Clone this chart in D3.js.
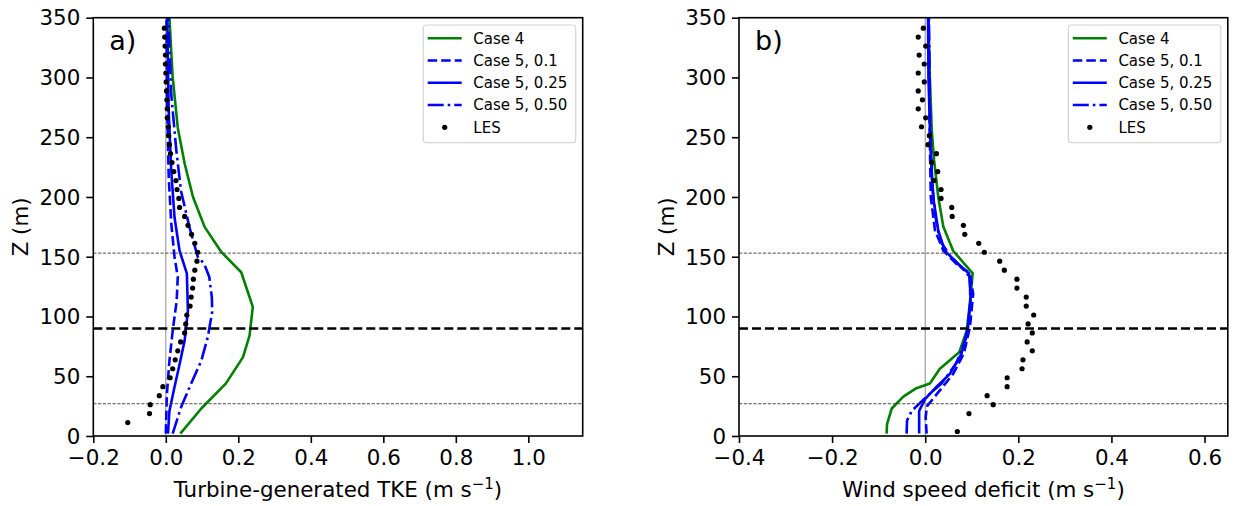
<!DOCTYPE html>
<html>
<head>
<meta charset="utf-8">
<script src="https://cdn.jsdelivr.net/npm/d3@7"></script>
<style>
  body { margin: 0; background: #fff; }
  svg { display: block; }
  text { font-family: "DejaVu Sans", sans-serif; fill: #000; }
</style>
</head>
<body>
<svg id="fig" width="1235" height="506"></svg>
<script>
// ---- Profiles: [value, height (m)] ----
// Turbine-generated TKE
const tkeCase4 = [[0.040,2],[0.098,23],[0.166,44],[0.213,66],[0.231,84],[0.240,108],[0.208,137],[0.153,154],[0.107,175],[0.075,200],[0.052,228],[0.033,258],[0.019,300],[0.010,350]];
const tkeCase5a = [[0.000,2],[0.003,35],[0.010,63],[0.019,88],[0.030,113],[0.033,133],[0.024,150],[0.015,178],[0.008,217],[0.004,272],[0.002,350]];
const tkeCase5b = [[0.006,2],[0.010,21],[0.024,41],[0.038,60],[0.052,80],[0.061,105],[0.058,136],[0.038,155],[0.024,183],[0.015,222],[0.008,272],[0.004,350]];
const tkeCase5c = [[0.019,2],[0.042,24],[0.070,44],[0.098,63],[0.116,83],[0.128,104],[0.127,116],[0.120,133],[0.106,144],[0.088,150],[0.065,175],[0.042,205],[0.029,239],[0.015,286],[0.007,350]];

// Wind speed deficit
const wsdCase4 = [[-0.083,2],[-0.082,10],[-0.072,23],[-0.047,33],[-0.019,40],[0.010,44],[0.031,56],[0.073,70],[0.089,88],[0.096,111],[0.102,136],[0.060,155],[0.039,175],[0.028,200],[0.019,231],[0.014,256],[0.010,300],[0.007,350]];
const wsdCase5a = [[0.003,2],[0.001,16],[0.004,25],[0.031,38],[0.060,52],[0.083,69],[0.096,91],[0.103,119],[0.096,136],[0.067,144],[0.039,155],[0.021,172],[0.012,200],[0.010,245],[0.007,350]];
const wsdCase5b = [[-0.013,2],[-0.013,21],[0.000,31],[0.024,41],[0.053,52],[0.078,69],[0.092,91],[0.098,119],[0.094,136],[0.071,144],[0.042,155],[0.028,172],[0.017,200],[0.011,245],[0.007,300],[0.006,350]];
const wsdCase5c = [[-0.040,2],[-0.039,13],[-0.029,21],[0.003,33],[0.035,44],[0.067,61],[0.089,83],[0.097,111],[0.096,133],[0.078,141],[0.053,151],[0.031,164],[0.021,186],[0.014,217],[0.010,280],[0.008,350]];

// LES reference heights and values (null where no point is plotted)
const lesZ = [3.75,11.25,18.75,26.25,33.75,41.25,48.75,56.25,63.75,71.25,78.75,86.25,93.75,101.25,108.75,116.25,123.75,131.25,138.75,146.25,153.75,161.25,168.75,176.25,183.75,191.25,198.75,206.25,213.75,221.25,228.75,236.25,243.75,251.25,258.75,266.25,273.75,281.25,288.75,296.25,303.75,311.25,318.75,326.25,333.75,341.25];
const lesTke = [null,-0.105,-0.045,-0.043,-0.018,-0.008,0.012,0.019,0.026,0.033,0.041,0.052,0.055,0.058,0.067,0.070,0.074,0.076,0.080,0.086,0.088,0.080,0.071,0.061,0.052,0.038,0.036,0.031,0.028,0.022,0.017,0.013,0.010,0.008,0.007,0.004,0.004,0.003,0.002,0.001,0.000,-0.001,-0.001,-0.002,-0.003,-0.004];
const lesWsd = [0.069,null,0.094,0.146,0.133,0.176,0.176,0.208,0.210,0.230,0.219,0.230,0.221,0.233,0.217,0.217,0.197,0.197,0.170,0.160,0.127,0.115,0.085,0.082,0.058,0.057,0.034,0.034,0.019,0.027,0.014,0.024,0.006,0.009,-0.008,0.001,-0.015,-0.006,-0.015,-0.002,-0.015,-0.002,-0.013,0.001,-0.015,-0.004];

// Axis ticks, labels and reference heights
const zTicks = [0,50,100,150,200,250,300,350];
const tkeTicks = [-0.2,0.0,0.2,0.4,0.6,0.8,1.0];
const wsdTicks = [-0.4,-0.2,0.0,0.2,0.4,0.6];
const seriesNames = ["Case 4","Case 5, 0.1","Case 5, 0.25","Case 5, 0.50","LES"];
const hubHeight = 90;
const rotorEdges = [27, 153];

// ---- Drawing ----
const svg = d3.select("#fig");
const plotTop = 17.7, plotBottom = 436;
const green = "#008000", blue = "#0000ff";
const lw = 2.6;
const fs = 21.4;
const styles = [
  {color: green, dash: null},
  {color: blue, dash: "9.5,4"},
  {color: blue, dash: null},
  {color: blue, dash: "16,4,2.6,4"}
];
const fmt = v => d3.format(".1f")(v).replace("-", "\u2212");

const panels = [
  {left: 93.3, right: 582.7, domain: [-0.2, 1.15], ticks: tkeTicks, tag: "a)",
   xlabel: "Turbine-generated TKE (m s", curves: [tkeCase4, tkeCase5a, tkeCase5b, tkeCase5c], les: lesTke},
  {left: 739, right: 1227.8, domain: [-0.4, 0.65], ticks: wsdTicks, tag: "b)",
   xlabel: "Wind speed deficit (m s", curves: [wsdCase4, wsdCase5a, wsdCase5b, wsdCase5c], les: lesWsd}
];

const y = d3.scaleLinear().domain([0, 350]).range([plotBottom, plotTop]);

panels.forEach((p, i) => {
  const x = d3.scaleLinear().domain(p.domain).range([p.left, p.right]);
  const g = svg.append("g");
  const clipId = "clip" + i;
  g.append("clipPath").attr("id", clipId).append("rect")
    .attr("x", p.left).attr("y", plotTop).attr("width", p.right - p.left).attr("height", plotBottom - plotTop);
  const plot = g.append("g").attr("clip-path", `url(#${clipId})`);

  // zero line
  plot.append("line").attr("x1", x(0)).attr("x2", x(0)).attr("y1", plotTop).attr("y2", plotBottom)
    .attr("stroke", "#8c8c8c").attr("stroke-width", 1);

  // model profiles
  const line = d3.line().x(d => x(d[0])).y(d => y(d[1]));
  p.curves.forEach((c, k) => {
    plot.append("path").datum(c).attr("d", line)
      .attr("fill", "none").attr("stroke", styles[k].color).attr("stroke-width", lw)
      .attr("stroke-linejoin", "round")
      .attr("stroke-dasharray", styles[k].dash);
  });

  // hub height and rotor edges
  plot.append("line").attr("x1", p.left).attr("x2", p.right).attr("y1", y(hubHeight)).attr("y2", y(hubHeight))
    .attr("stroke", "#000").attr("stroke-width", 2.4).attr("stroke-dasharray", "9,4");
  rotorEdges.forEach(z => {
    plot.append("line").attr("x1", p.left).attr("x2", p.right).attr("y1", y(z)).attr("y2", y(z))
      .attr("stroke", "#3a3a3a").attr("stroke-width", 0.9).attr("stroke-dasharray", "3.2,1.6");
  });

  // LES points
  const pts = lesZ.map((z, k) => [p.les[k], z]).filter(d => d[0] !== null);
  plot.selectAll("circle.les").data(pts).enter().append("circle")
    .attr("class", "les").attr("cx", d => x(d[0])).attr("cy", d => y(d[1])).attr("r", 2.6).attr("fill", "#000");

  // axes
  const xa = g.append("g").attr("transform", `translate(0,${plotBottom})`)
    .call(d3.axisBottom(x).tickValues(p.ticks).tickFormat(fmt).tickSize(7).tickPadding(7));
  const ya = g.append("g").attr("transform", `translate(${p.left},0)`)
    .call(d3.axisLeft(y).tickValues(zTicks).tickSize(7).tickPadding(6));
  [xa, ya].forEach(a => {
    a.select(".domain").remove();
    a.selectAll(".tick line").attr("stroke", "#000").attr("stroke-width", 1.6);
    a.selectAll(".tick text").attr("font-size", fs).attr("font-family", "DejaVu Sans").attr("fill", "#000");
  });
  ya.selectAll(".tick text").attr("dy", "0.34em");

  g.append("rect").attr("x", p.left).attr("y", plotTop).attr("width", p.right - p.left).attr("height", plotBottom - plotTop)
    .attr("fill", "none").attr("stroke", "#000").attr("stroke-width", 1.6);

  // axis labels
  const xl = g.append("text").attr("x", (p.left + p.right) / 2).attr("y", 497)
    .attr("text-anchor", "middle").attr("font-size", fs).text(p.xlabel);
  xl.append("tspan").attr("dy", -8.5).attr("font-size", 15).text("\u22121");
  xl.append("tspan").attr("dy", 8.5).text(")");

  g.append("text").attr("transform", `translate(${p.left - 65},${(plotTop + plotBottom) / 2}) rotate(-90)`)
    .attr("text-anchor", "middle").attr("font-size", fs).text("Z (m)");

  // panel tag
  g.append("text").attr("x", p.left + 16).attr("y", 50).attr("font-size", 27).text(p.tag);

  // legend
  const lgW = 152.4, lgH = 117.7;
  const lx = p.right - 7 - lgW, ly = plotTop + 7.3;
  const lg = g.append("g").attr("transform", `translate(${lx},${ly})`);
  lg.append("rect").attr("width", lgW).attr("height", lgH).attr("rx", 3)
    .attr("fill", "#fff").attr("fill-opacity", 0.8).attr("stroke", "#d4d4d4").attr("stroke-width", 1.2);
  seriesNames.forEach((name, k) => {
    const ry = 13.3 + k * 22.25;
    if (k < 4) {
      lg.append("line").attr("x1", 4.4).attr("x2", 38.4).attr("y1", ry).attr("y2", ry)
        .attr("stroke", styles[k].color).attr("stroke-width", lw).attr("stroke-dasharray", styles[k].dash);
    } else {
      lg.append("circle").attr("cx", 21.4).attr("cy", ry).attr("r", 2.6).attr("fill", "#000");
    }
    lg.append("text").attr("x", 50).attr("y", ry).attr("dy", "0.36em").attr("font-size", 15).text(name);
  });
});
</script>
</body>
</html>
